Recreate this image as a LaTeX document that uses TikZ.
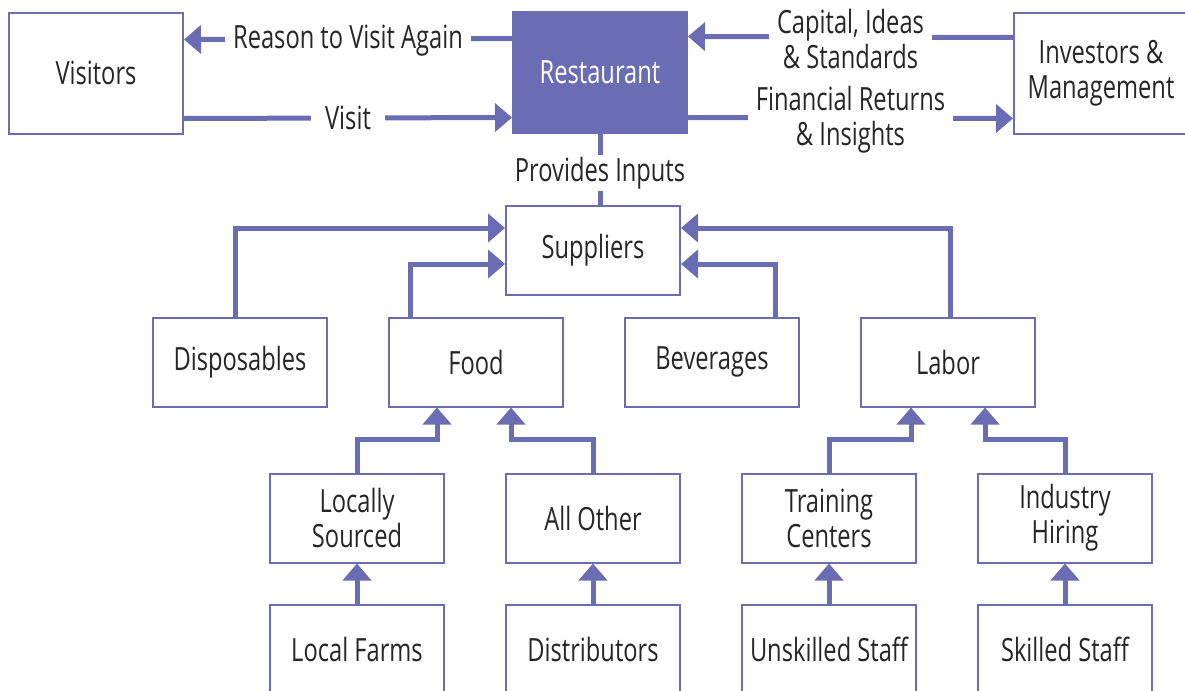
\documentclass[tikz,border=0pt]{standalone}
\usepackage{fontspec}
\setmainfont{Open Sans}[FakeStretch=0.74]
\usetikzlibrary{arrows.meta,positioning,calc}
\definecolor{flowcol}{HTML}{6B6DB4}

\begin{document}
\begin{tikzpicture}[x=0.5pt, y=-0.5pt,
  font=\fontsize{16}{17.5}\selectfont,
  box/.style={draw=flowcol, line width=1pt, fill=white, minimum width=87pt,
    minimum height=44.5pt, align=center, inner sep=2pt, text=black!85},
  bigbox/.style={box, minimum height=60.5pt},
  flow/.style={flowcol, line width=2.5pt, -{Triangle[width=14pt,length=8.5pt]}},
  lbl/.style={fill=white, text=black!85, inner xsep=4pt, inner ysep=1pt, align=center}]
\useasboundingbox (0,0) rectangle (1185,691);

% top row: visitors, restaurant, investors
\node[bigbox] (visitors) at (96,73) {Visitors};
\node[bigbox, fill=flowcol, text=white] (rest) at (600,72) {Restaurant};
\node[bigbox] (invest) at (1101,73) {Investors \&\\Management};

\draw[flow] ([yshift=-14pt]rest.north west) -- ([yshift=-14pt]visitors.north east)
  node[midway, lbl, yshift=-1pt] {Reason to Visit Again};
\draw[flow] ([yshift=8pt]visitors.south east) -- ([yshift=8pt]rest.south west)
  node[midway, lbl, inner xsep=7pt] {Visit};
\draw[flow] ([yshift=-13pt]invest.north west) -- ([yshift=-13pt]rest.north east)
  node[midway, lbl, yshift=-1pt] {Capital, Ideas\\\& Standards};
\draw[flow] ([yshift=8pt]rest.south east) -- ([yshift=8pt]invest.south west)
  node[midway, lbl, yshift=-1pt] {Financial Returns\\\& Insights};

% suppliers and what feeds them
\node[box] (sup) at (593,250) {Suppliers};
\draw[flowcol, line width=2.5pt] (rest.south) -- (rest.south |- sup.north)
  node[midway, lbl, yshift=-2pt] {Provides Inputs};

\foreach \n/\x/\txt in {disp/240/Disposables, food/476/Food, bev/712/Beverages, labor/948/Labor}{
  \node[box] (\n) at (\x,362) {\txt};
}
\draw[flow] ([xshift=-2.5pt]disp.north) |- ([yshift=11pt]sup.west);
\draw[flow] ([xshift=11pt]food.north west) |- ([yshift=-7pt]sup.west);
\draw[flow] ([xshift=-12.5pt]bev.north east) |- ([yshift=-7pt]sup.east);
\draw[flow] ([xshift=1pt]labor.north) |- ([yshift=11pt]sup.east);

% sources of food and labor
\foreach \n/\x/\txt in {local/357/Locally\\Sourced, other/593/All Other,
    train/829/Training\\Centers, hire/1065/Industry\\Hiring}{
  \node[box] (\n) at (\x,518) {\txt};
}
\draw[flow] (local.north) -- ++(0,-33) -| ([xshift=-19.5pt]food.south);
\draw[flow] (other.north) -- ++(0,-33) -| ([xshift=17.5pt]food.south);
\draw[flow] (train.north) -- ++(0,-33) -| ([xshift=-18.5pt]labor.south);
\draw[flow] (hire.north) -- ++(0,-33) -| ([xshift=18.5pt]labor.south);

% bottom row
\foreach \n/\x/\txt in {farms/357/Local Farms, dist/593/Distributors,
    unsk/829/Unskilled Staff, skill/1065/Skilled Staff}{
  \node[box] (\n) at (\x,649) {\txt};
}
\foreach \a/\b in {farms/local, dist/other, unsk/train, skill/hire}
  \draw[flow] (\a) -- (\b);
\end{tikzpicture}
\end{document}
